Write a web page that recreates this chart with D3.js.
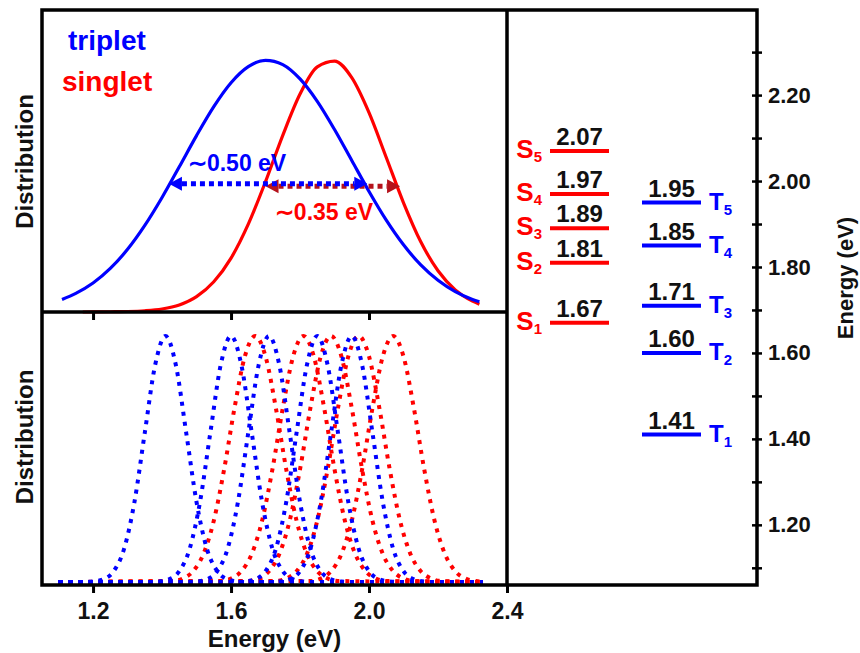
<!DOCTYPE html>
<html>
<head>
<meta charset="utf-8">
<script src="https://cdn.jsdelivr.net/npm/d3@7"></script>
<style>
  body { margin: 0; background: #fff; }
  svg text { font-family: "Liberation Sans", Arial, Helvetica, sans-serif; font-weight: bold; }
</style>
</head>
<body>
<svg id="chart" width="860" height="653"></svg>
<script>
// energy axis ticks (eV)
const energyTicks = [1.2, 1.6, 2.0, 2.4];
const levelMajorTicks = [1.2, 1.4, 1.6, 1.8, 2.0, 2.2];
const levelMinorTicks = [1.1, 1.3, 1.5, 1.7, 1.9, 2.1, 2.3];

// excited state energies (eV)
const singletEnergies = [1.67, 1.81, 1.89, 1.97, 2.07];
const tripletEnergies = [1.41, 1.60, 1.71, 1.85, 1.95];

// overall distributions (top panel)
const tripletDistE = [1.11, 1.15, 1.20, 1.25, 1.30, 1.35, 1.40, 1.45, 1.50, 1.55, 1.60, 1.65, 1.70,
  1.75, 1.80, 1.85, 1.90, 1.95, 2.00, 2.05, 2.10, 2.15, 2.20, 2.25, 2.30, 2.32];
const tripletDist = [0.050, 0.074, 0.115, 0.173, 0.249, 0.344, 0.455, 0.577, 0.701, 0.816, 0.911, 0.975, 1.000,
  0.983, 0.926, 0.837, 0.725, 0.602, 0.479, 0.365, 0.267, 0.187, 0.126, 0.081, 0.050, 0.041];
const singletDistE = [1.17, 1.25, 1.30, 1.35, 1.40, 1.45, 1.50, 1.55, 1.60, 1.65, 1.70, 1.75,
  1.80, 1.85, 1.90, 1.95, 2.00, 2.05, 2.10, 2.15, 2.20, 2.25, 2.30, 2.32];
const singletDist = [0.000, 0.001, 0.002, 0.005, 0.012, 0.028, 0.061, 0.120, 0.214, 0.349, 0.518, 0.702,
  0.866, 0.974, 0.997, 0.931, 0.792, 0.614, 0.434, 0.279, 0.164, 0.088, 0.043, 0.031];

// FWHM arrows: [from, to] in eV, and the height they sit at
const tripletFwhm = [1.42, 1.995];
const singletFwhm = [1.70, 2.09];
const fwhmLevel = [0.51, 0.50];

// band shape of one state (bottom panel), offsets from the state energy
const shapeOffsets = [-0.24, -0.21, -0.18, -0.15, -0.12, -0.09, -0.06, -0.03, 0,
  0.03, 0.06, 0.09, 0.12, 0.15, 0.18, 0.21, 0.24];
const tripletShape = [0, 0.002, 0.011, 0.044, 0.135, 0.325, 0.607, 0.882, 1,
  0.882, 0.607, 0.325, 0.135, 0.044, 0.011, 0.002, 0];
const singletShape = [0.004, 0.014, 0.044, 0.114, 0.249, 0.458, 0.707, 0.917, 1,
  0.917, 0.707, 0.458, 0.249, 0.114, 0.044, 0.014, 0.004];

const BLUE = '#0000ff', RED = '#ff0000', DARKRED = '#b5121b', INK = '#111';

const svg = d3.select('#chart');

const x = d3.scaleLinear().domain([1.052, 2.4]).range([42, 507]);
const yTop = d3.scaleLinear().domain([0, 1.2]).range([312, 10]);
const yBot = d3.scaleLinear().domain([0, 1]).range([582, 336]);
const yLev = d3.scaleLinear().domain([1.06, 2.398]).range([585, 10]);
const col = d3.scalePoint().domain(['singlet', 'triplet']).range([579.5, 671.5]);
const halfW = 29.5;

// Top panel curves
const lineTop = d3.line()
  .x(d => x(d[0]))
  .y(d => yTop(d[1]))
  .curve(d3.curveMonotoneX);

svg.append('path')
  .datum(d3.zip(singletDistE, singletDist))
  .attr('fill', 'none')
  .attr('stroke', RED)
  .attr('stroke-width', 3.2)
  .attr('d', lineTop);

svg.append('path')
  .datum(d3.zip(tripletDistE, tripletDist))
  .attr('fill', 'none')
  .attr('stroke', BLUE)
  .attr('stroke-width', 3.2)
  .attr('d', lineTop);

// FWHM arrows
function drawArrow(range, level, color) {
  const y = yTop(level);
  const x0 = x(range[0]), x1 = x(range[1]);
  const head = 13, hw = 7;
  svg.append('line')
    .attr('x1', x0 + head).attr('x2', x1 - head)
    .attr('y1', y).attr('y2', y)
    .attr('stroke', color)
    .attr('stroke-width', 5)
    .attr('stroke-dasharray', '5 4');
  svg.append('path')
    .attr('d', `M${x0},${y}L${x0 + head},${y - hw}L${x0 + head},${y + hw}Z` +
               `M${x1},${y}L${x1 - head},${y - hw}L${x1 - head},${y + hw}Z`)
    .attr('fill', color);
}
drawArrow(singletFwhm, fwhmLevel[1], DARKRED);
drawArrow(tripletFwhm, fwhmLevel[0], BLUE);

svg.append('text')
  .attr('x', x(1.475)).attr('y', yTop(0.56))
  .attr('fill', BLUE)
  .style('font-size', '23px')
  .text('\u223C0.50 eV');

svg.append('text')
  .attr('x', x(1.727)).attr('y', yTop(0.365))
  .attr('fill', RED)
  .style('font-size', '23px')
  .text('\u223C0.35 eV');

// legend words
svg.append('text').attr('x', 68).attr('y', 50).attr('fill', BLUE).style('font-size', '28px').text('triplet');
svg.append('text').attr('x', 62).attr('y', 91).attr('fill', RED).style('font-size', '28px').text('singlet');

// Bottom panel: dotted band of every state
const lineBot = d3.line()
  .x(d => x(d[0]))
  .y(d => yBot(d[1]))
  .curve(d3.curveMonotoneX);

function bandPoints(center, shape) {
  const pts = shapeOffsets.map((o, i) => [center + o, shape[i]]);
  return [[1.10, 0], ...pts, [2.33, 0]];
}

singletEnergies.forEach(e => {
  svg.append('path')
    .datum(bandPoints(e, singletShape))
    .attr('fill', 'none')
    .attr('stroke', RED)
    .attr('stroke-width', 4)
    .attr('stroke-dasharray', '4 6')
    .attr('d', lineBot);
});
tripletEnergies.forEach(e => {
  svg.append('path')
    .datum(bandPoints(e, tripletShape))
    .attr('fill', 'none')
    .attr('stroke', BLUE)
    .attr('stroke-width', 4)
    .attr('stroke-dasharray', '4 6')
    .attr('d', lineBot);
});

// Frames
svg.append('path')
  .attr('d', 'M42,10H757V585H42Z M42,312H507 M507,10V585')
  .attr('fill', 'none')
  .attr('stroke', '#000')
  .attr('stroke-width', 3.5);

// X axes
const topAxis = svg.append('g')
  .attr('transform', 'translate(0,312)')
  .call(d3.axisBottom(x).tickValues(energyTicks.slice(0, 3)).tickSize(8).tickFormat(''));
topAxis.select('.domain').remove();
topAxis.selectAll('line').attr('stroke', '#000').attr('stroke-width', 3);

const botAxis = svg.append('g')
  .attr('transform', 'translate(0,585)')
  .call(d3.axisBottom(x).tickValues(energyTicks).tickSize(8).tickPadding(10).tickFormat(d3.format('.1f')));
botAxis.select('.domain').remove();
botAxis.selectAll('line').attr('stroke', '#000').attr('stroke-width', 3);
botAxis.selectAll('text')
  .attr('fill', INK)
  .style('font-size', '23px')
  .style('font-family', '"Liberation Sans", Arial, sans-serif');

svg.append('text')
  .attr('x', 274.5).attr('y', 647)
  .attr('text-anchor', 'middle')
  .attr('fill', INK)
  .style('font-size', '24px')
  .text('Energy (eV)');

[161.5, 437].forEach(cy => {
  svg.append('text')
    .attr('transform', `translate(33,${cy}) rotate(-90)`)
    .attr('text-anchor', 'middle')
    .attr('fill', INK)
    .style('font-size', '24px')
    .text('Distribution');
});

// Right energy axis
const rAxis = svg.append('g')
  .attr('transform', 'translate(757,0)')
  .call(d3.axisRight(yLev).tickValues(levelMajorTicks).tickSize(5).tickPadding(6).tickFormat(d3.format('.2f')));
rAxis.select('.domain').remove();
rAxis.selectAll('line').attr('x1', -5).attr('stroke', '#000').attr('stroke-width', 2.5);
rAxis.selectAll('text')
  .attr('fill', INK)
  .style('font-size', '22px')
  .style('font-family', '"Liberation Sans", Arial, sans-serif');

const rMinor = svg.append('g')
  .attr('transform', 'translate(757,0)')
  .call(d3.axisRight(yLev).tickValues(levelMinorTicks).tickSize(5).tickFormat(''));
rMinor.select('.domain').remove();
rMinor.selectAll('line').attr('x1', -5).attr('stroke', '#000').attr('stroke-width', 2.5);

svg.append('text')
  .attr('transform', 'translate(853,278) rotate(-90)')
  .attr('text-anchor', 'middle')
  .attr('fill', INK)
  .style('font-size', '22px')
  .text('Energy (eV)');

// Energy levels
function drawLevels(energies, kind, color, letter) {
  const cx = col(kind);
  const g = svg.append('g');
  g.selectAll('line')
    .data(energies)
    .join('line')
    .attr('x1', cx - halfW).attr('x2', cx + halfW)
    .attr('y1', d => yLev(d)).attr('y2', d => yLev(d))
    .attr('stroke', color)
    .attr('stroke-width', 4);

  g.selectAll('text.val')
    .data(energies)
    .join('text')
    .attr('class', 'val')
    .attr('x', cx)
    .attr('y', d => yLev(d) - 6)
    .attr('text-anchor', 'middle')
    .attr('fill', INK)
    .style('font-size', '24px')
    .text(d => d3.format('.2f')(d));

  const lab = g.selectAll('text.lab')
    .data(energies)
    .join('text')
    .attr('class', 'lab')
    .attr('x', kind === 'singlet' ? cx - halfW - 8 : cx + halfW + 8)
    .attr('y', d => yLev(d) + 7)
    .attr('text-anchor', kind === 'singlet' ? 'end' : 'start')
    .attr('fill', color)
    .style('font-size', kind === 'singlet' ? '26px' : '24px');
  lab.append('tspan').text(letter);
  lab.append('tspan')
    .attr('dy', kind === 'singlet' ? 4 : 5)
    .style('font-size', kind === 'singlet' ? '15px' : '15px')
    .text((d, i) => i + 1);
}
drawLevels(singletEnergies, 'singlet', RED, 'S');
drawLevels(tripletEnergies, 'triplet', BLUE, 'T');
</script>
</body>
</html>
